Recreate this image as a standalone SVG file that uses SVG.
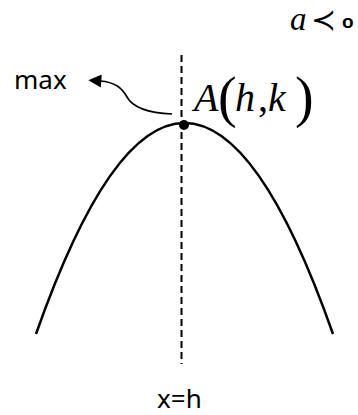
<svg xmlns="http://www.w3.org/2000/svg" width="358" height="415" viewBox="0 0 358 415">
<style>
.lbl{font-family:"Noto Sans","Open Sans",sans-serif;font-size:26px;fill:#000}
.m{font-family:"Liberation Serif","Times New Roman",serif;fill:#000}
.it{font-style:italic}
.curve{fill:none;stroke:#000;stroke-width:2.5}
.axis{fill:none;stroke:#000;stroke-width:2;stroke-dasharray:7 4}
</style>
<defs>
<marker id="ah" viewBox="0 0 10 10" refX="1" refY="5" markerWidth="17" markerHeight="13" markerUnits="userSpaceOnUse" orient="auto">
<path d="M0,0 L10,5 L0,10 Z" fill="#000"/>
</marker>
</defs>
<rect width="358" height="415" fill="#fff"/>
<g id="connectors">
<line class="axis" x1="181.5" y1="55" x2="181.5" y2="364"/>
<path class="curve" d="M36,334 Q184.5,-88 333,334"/>
<path fill="none" stroke="#000" stroke-width="1.6" d="M172,114 C150,113 133,108 127,97 C122,88 115,82 100,81" marker-end="url(#ah)"/>
</g>
<g id="vertex">
<circle cx="184" cy="125" r="5" fill="#000"/>
<text class="m" font-size="40"><tspan class="it" x="194" y="111">A</tspan><tspan x="218" y="116" font-size="56">(</tspan><tspan class="it" x="235" y="111">h</tspan><tspan x="258" y="111">,</tspan><tspan class="it" x="268" y="111">k</tspan><tspan x="295" y="116" font-size="56">)</tspan></text>
</g>
<g id="max">
<text class="lbl" x="14" y="89">max</text>
</g>
<g id="axis-label">
<text class="lbl" x="157" y="408">x=h</text>
</g>
<g id="sign">
<text class="m it" x="290" y="30" font-size="33">a</text>
<text x="311" y="30" font-family="DejaVu Serif" font-size="30">≺</text>
<text x="342" y="28" font-family="Liberation Sans" font-weight="bold" font-size="19">o</text>
</g>
</svg>
